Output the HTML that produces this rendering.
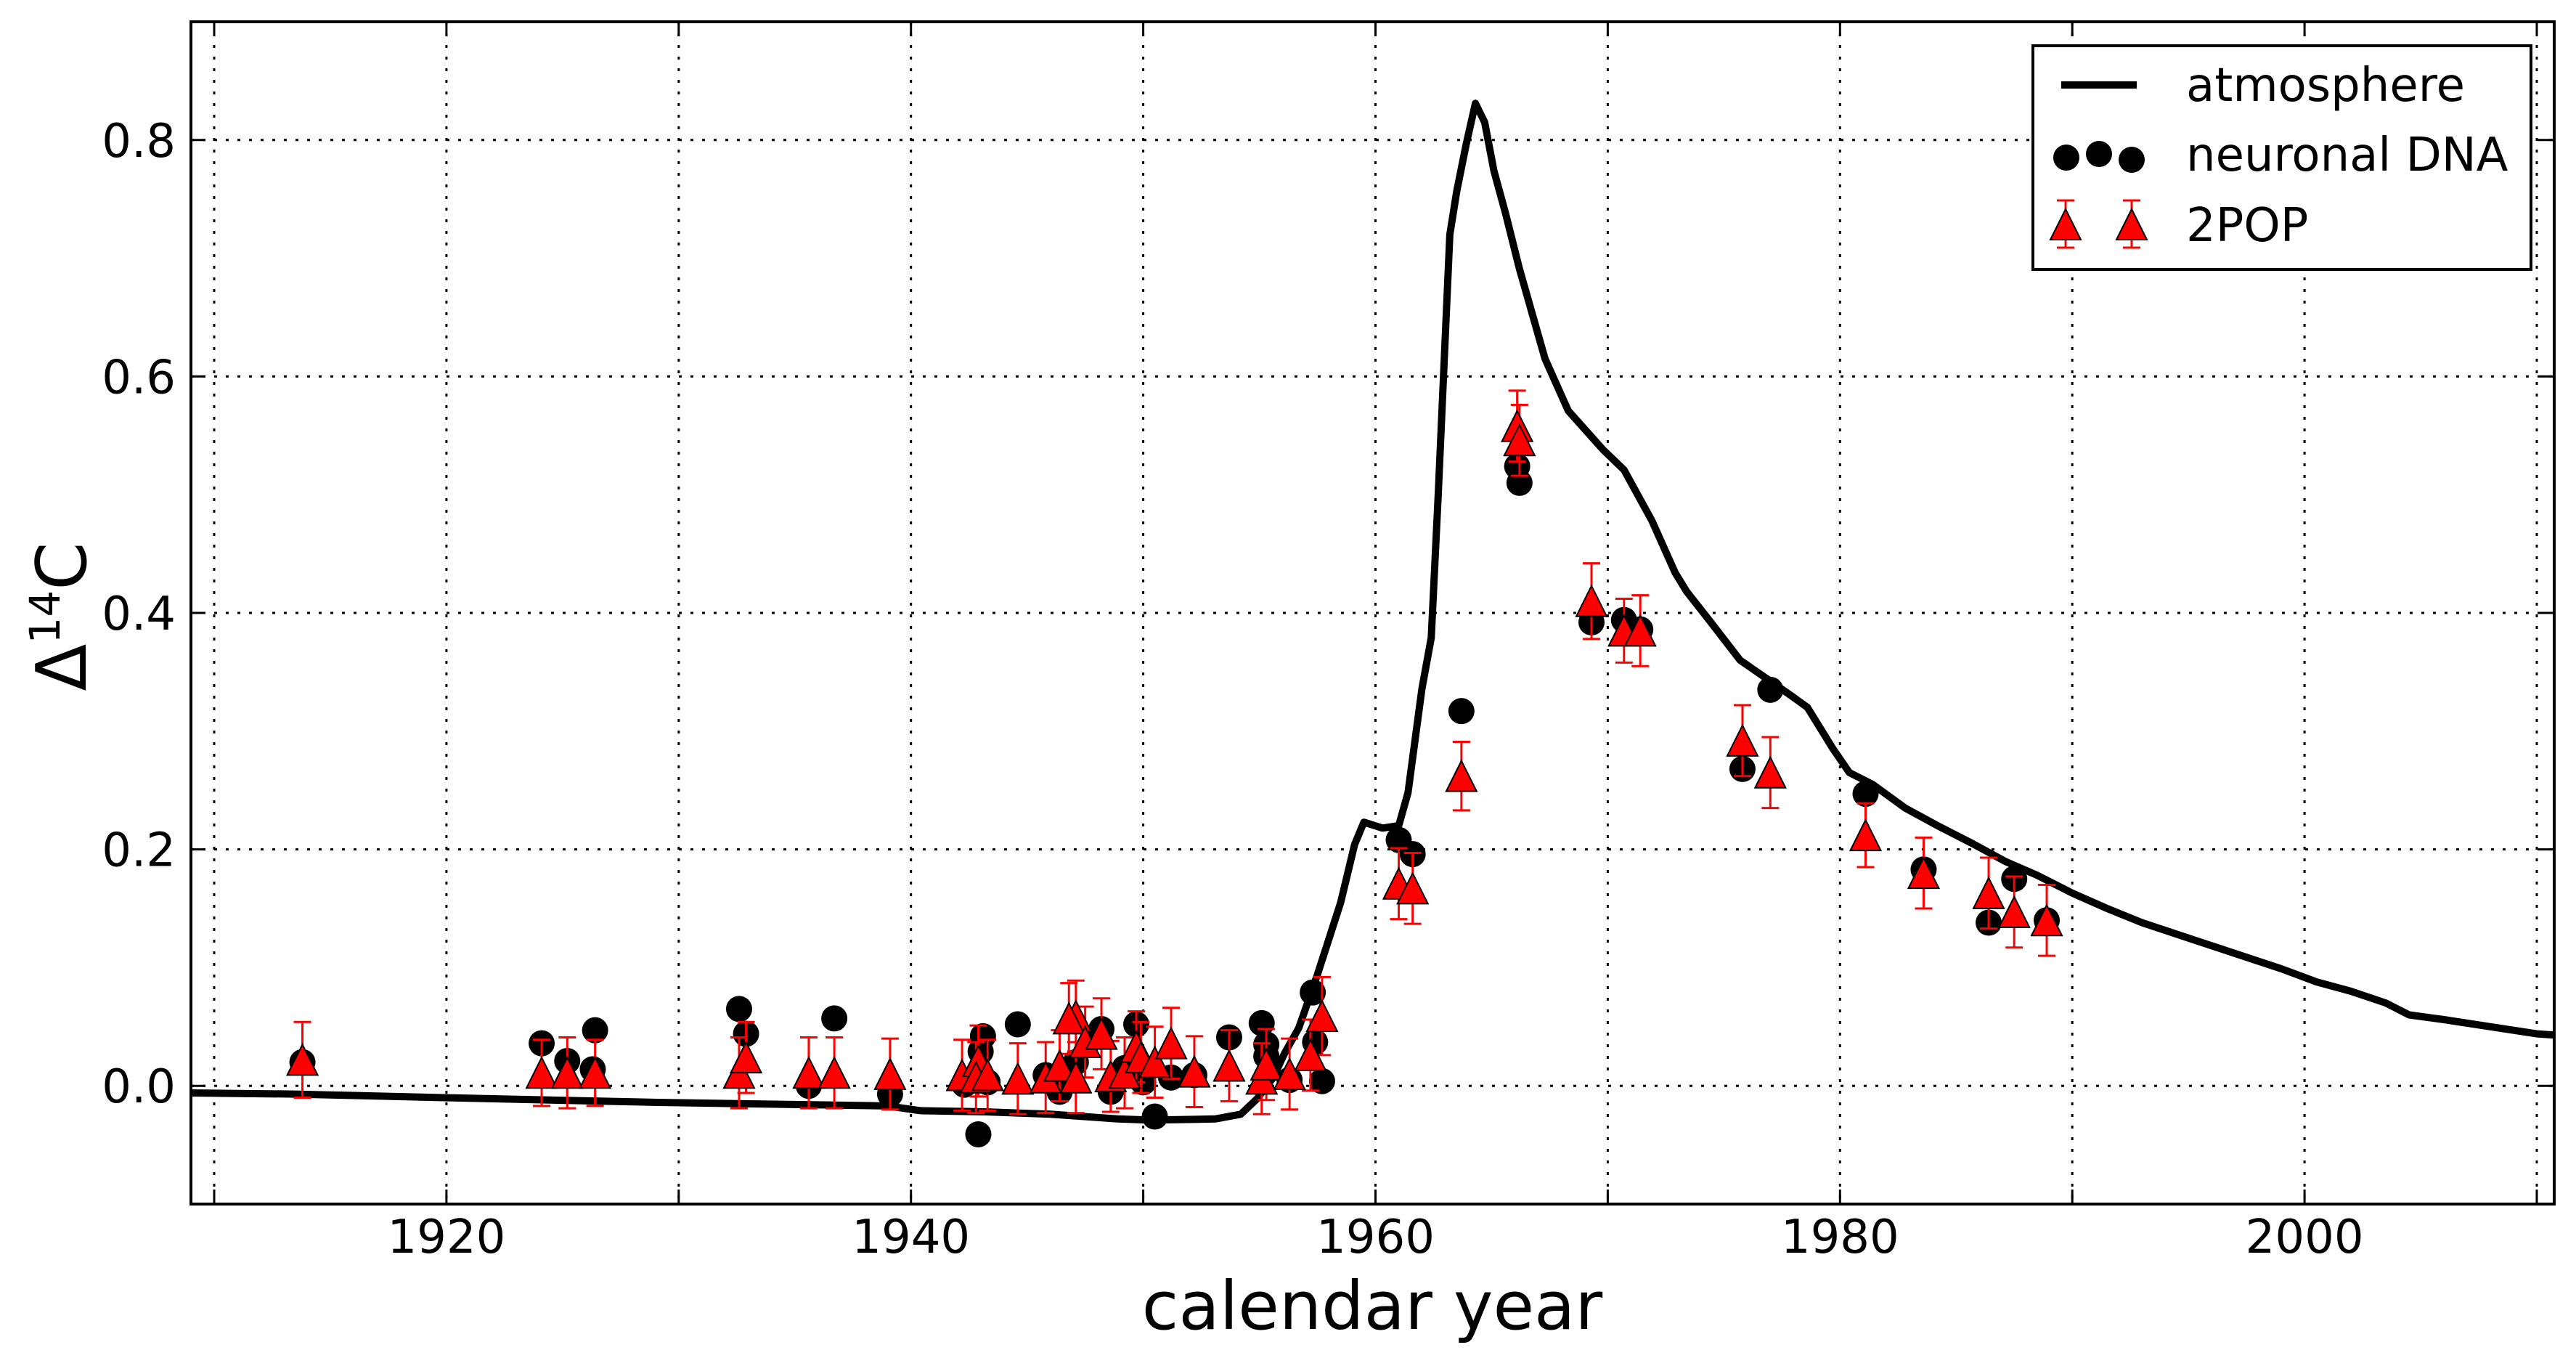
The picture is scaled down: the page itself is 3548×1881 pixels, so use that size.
<!DOCTYPE html>
<html><head><meta charset="utf-8"><style>
html,body{margin:0;padding:0;background:#fff;}
svg{display:block;font-family:"DejaVu Sans","Liberation Sans",sans-serif;}
</style></head><body>
<svg id="chart" width="3548" height="1881" viewBox="0 0 3548 1881" xmlns="http://www.w3.org/2000/svg">
<rect x="0" y="0" width="3548" height="1881" fill="#fff"/>
<g id="grid"></g>
<g id="ticks"></g>
<g id="plot"></g>
<rect x="263" y="30" width="3255" height="1628" fill="none" stroke="#000" stroke-width="4"/>
<text x="1890" y="1830" font-size="92" text-anchor="middle">calendar year</text>
<text transform="translate(118,849) rotate(-90)" font-size="95" text-anchor="middle">Δ<tspan font-size="58" dy="-36">14</tspan><tspan dy="36">C</tspan></text>
<g>
<rect x="2800" y="63" width="686" height="308" fill="#fff" stroke="#000" stroke-width="4"/>
<line x1="2839" y1="117" x2="2943" y2="117" stroke="#000" stroke-width="10"/>
<text x="3011" y="139" font-size="64">atmosphere</text>
<ellipse cx="2846" cy="217" rx="18" ry="18" fill="#000"/>
<ellipse cx="2891" cy="212" rx="18" ry="18" fill="#000"/>
<ellipse cx="2936" cy="220" rx="18" ry="18" fill="#000"/>
<text x="3011" y="235" font-size="64">neuronal DNA</text>
<g stroke="red" stroke-width="3">
<line x1="2845" y1="276" x2="2845" y2="341"/><line x1="2833" y1="276" x2="2857" y2="276"/><line x1="2833" y1="341" x2="2857" y2="341"/>
<line x1="2936" y1="276" x2="2936" y2="341"/><line x1="2924" y1="276" x2="2948" y2="276"/><line x1="2924" y1="341" x2="2948" y2="341"/>
<polygon points="2845,288 2866,330 2824,330" fill="red" stroke="#000" stroke-width="2"/>
<polygon points="2936,288 2957,330 2915,330" fill="red" stroke="#000" stroke-width="2"/>
</g>
<text x="3011" y="332" font-size="64">2POP</text>
</g>
</svg>
<script>
const atmYears = [1909,1913.5,1919.9,1929.1,1939.0,1940.4,1943.2,1946.0,1948.9,1950.3,1953.1,1954.2,1954.9,1955.6,1956.1,1956.7,1957.5,1958.5,1959.1,1959.5,1960.3,1961.0,1961.4,1962.0,1962.4,1962.7,1963.2,1963.5,1963.9,1964.3,1964.7,1965.1,1965.6,1966.2,1967.3,1968.3,1969.8,1970.7,1971.9,1972.9,1973.4,1974.4,1975.7,1976.8,1977.9,1978.6,1979.7,1980.4,1981.4,1982.8,1984.2,1985.7,1987.1,1988.5,1990,1991.5,1993,1995,1997,1999,2000.5,2002,2003.5,2004.5,2006,2008,2010,2010.75];
const atmValues = [-0.006,-0.007,-0.010,-0.014,-0.017,-0.021,-0.022,-0.024,-0.028,-0.029,-0.028,-0.024,-0.011,0.007,0.028,0.049,0.094,0.155,0.204,0.223,0.218,0.22,0.248,0.336,0.379,0.5,0.72,0.757,0.796,0.831,0.815,0.774,0.738,0.691,0.615,0.571,0.538,0.521,0.478,0.434,0.418,0.393,0.36,0.345,0.33,0.32,0.285,0.265,0.255,0.235,0.22,0.205,0.19,0.178,0.163,0.15,0.138,0.125,0.112,0.099,0.088,0.08,0.07,0.06,0.056,0.05,0.044,0.043];
const dnaYears = [1913.8,1924.1,1925.2,1926.4,1926.3,1932.6,1932.9,1935.6,1936.7,1939.1,1943.1,1943.0,1942.3,1942.9,1943.3,1944.6,1945.8,1946.4,1947.1,1948.2,1948.6,1949.2,1949.7,1950.0,1950.5,1951.2,1952.2,1953.7,1955.1,1955.3,1955.3,1956.3,1957.3,1957.4,1957.7,1961.0,1961.6,1963.7,1966.1,1966.2,1969.3,1970.7,1971.4,1975.8,1977.0,1981.1,1983.6,1986.4,1987.5,1988.9];
const dnaValues = [0.02,0.036,0.021,0.047,0.014,0.065,0.044,0.0,0.057,-0.007,0.042,0.029,0.001,-0.041,0.003,0.052,0.009,-0.005,0.02,0.048,-0.005,0.015,0.052,0.003,-0.026,0.007,0.009,0.041,0.053,0.035,0.025,0.005,0.079,0.037,0.004,0.208,0.196,0.317,0.524,0.510,0.392,0.394,0.386,0.268,0.335,0.247,0.183,0.138,0.175,0.140];
const popYears = [1913.8,1924.1,1925.2,1926.4,1932.6,1932.9,1935.6,1936.7,1939.1,1942.2,1942.9,1942.8,1943.3,1944.6,1945.8,1946.4,1947.1,1947.1,1946.8,1947.5,1948.2,1948.6,1949.2,1949.7,1949.9,1950.5,1951.2,1952.2,1953.7,1955.1,1955.3,1956.3,1957.2,1957.7,1961.0,1961.6,1963.7,1966.1,1966.2,1969.3,1970.7,1971.4,1975.8,1977.0,1981.1,1983.6,1986.4,1987.5,1988.9];
const popValues = [0.022,0.011,0.011,0.011,0.011,0.024,0.011,0.011,0.010,0.009,0.021,0.007,0.009,0.006,0.007,0.017,0.007,0.059,0.057,0.037,0.044,0.008,0.011,0.033,0.024,0.02,0.036,0.012,0.017,0.006,0.018,0.01,0.026,0.059,0.171,0.167,0.262,0.558,0.546,0.410,0.385,0.385,0.292,0.265,0.212,0.180,0.163,0.147,0.140];
const popErrors = [0.032,0.028,0.03,0.028,0.03,0.03,0.03,0.03,0.03,0.03,0.03,0.03,0.03,0.03,0.03,0.03,0.03,0.03,0.03,0.03,0.03,0.03,0.03,0.03,0.03,0.03,0.03,0.03,0.03,0.03,0.03,0.03,0.03,0.033,0.03,0.03,0.029,0.03,0.03,0.032,0.027,0.03,0.03,0.03,0.027,0.03,0.03,0.03,0.03];
const xTicks = [1910,1920,1930,1940,1950,1960,1970,1980,1990,2000,2010];
const xTickLabels = ["","1920","","1940","","1960","","1980","","2000",""];
const yTicks = [0.0,0.2,0.4,0.6,0.8];
const yTickLabels = ["0.0","0.2","0.4","0.6","0.8"];

const L=263,R=3518,T=30,B=1658, X0=1909, X1=2010.75, Y0=-0.1, Y1=0.9;
function sx(v){return L+(v-X0)/(X1-X0)*(R-L);}
function sy(v){return B-(v-Y0)/(Y1-Y0)*(B-T);}
const NS="http://www.w3.org/2000/svg";
function mk(tag,attrs,parent){const e=document.createElementNS(NS,tag);for(const k in attrs)e.setAttribute(k,attrs[k]);parent.appendChild(e);return e;}
const grid=document.getElementById('grid'),ticks=document.getElementById('ticks'),plot=document.getElementById('plot');

xTicks.forEach((t,i)=>{
  const x=sx(t);
  const g=mk('line',{x1:x,y1:T,x2:x,y2:B,stroke:'#000','stroke-width':3,'stroke-dasharray':'4 12'},grid);
  
  
  const tb=mk('line',{x1:x,y1:B,x2:x,y2:B-20,stroke:'#000','stroke-width':3},ticks);
  
  
  const tt=mk('line',{x1:x,y1:T,x2:x,y2:T+20,stroke:'#000','stroke-width':3},ticks);
  
  
  if(xTickLabels[i]){
    const lb=mk('text',{x:x,y:1725,'font-size':64,'text-anchor':'middle'},ticks);
    lb.textContent=xTickLabels[i];
    
    
  }
});
yTicks.forEach((t,i)=>{
  const y=sy(t);
  const g=mk('line',{x1:L,y1:y,x2:R,y2:y,stroke:'#000','stroke-width':3,'stroke-dasharray':'4 12'},grid);
  
  
  const tl=mk('line',{x1:L,y1:y,x2:L+20,y2:y,stroke:'#000','stroke-width':3},ticks);
  
  
  const tr=mk('line',{x1:R,y1:y,x2:R-20,y2:y,stroke:'#000','stroke-width':3},ticks);
  
  
  const lb=mk('text',{x:242,y:y+23,'font-size':64,'text-anchor':'end'},ticks);
  lb.textContent=yTickLabels[i];
  
  
});

const cp=mk('clipPath',{id:'clip'},plot);
mk('rect',{x:L,y:T,width:R-L,height:B-T},cp);
const inner=mk('g',{'clip-path':'url(#clip)'},plot);

const d=atmYears.map((yr,i)=>(i?'L':'M')+sx(yr).toFixed(1)+','+sy(atmValues[i]).toFixed(1)).join(' ');
const line=mk('path',{d:d,fill:'none',stroke:'#000','stroke-width':10,'stroke-linejoin':'round'},inner);



dnaYears.forEach((yr,i)=>{
  const c=mk('circle',{cx:sx(yr),cy:sy(dnaValues[i]),r:18,fill:'#000'},inner);
  
  
});
popYears.forEach((yr,i)=>{
  const x=sx(yr),y=sy(popValues[i]),ytop=sy(popValues[i]+popErrors[i]),ybot=sy(popValues[i]-popErrors[i]);
  const g=mk('g',{stroke:'red','stroke-width':3},inner);
  
  
  mk('line',{x1:x,y1:ytop,x2:x,y2:ybot},g);
  mk('line',{x1:x-12,y1:ytop,x2:x+12,y2:ytop},g);
  mk('line',{x1:x-12,y1:ybot,x2:x+12,y2:ybot},g);
});
popYears.forEach((yr,i)=>{
  const x=sx(yr),y=sy(popValues[i]);
  const p=mk('polygon',{points:`${x},${y-21} ${x+21},${y+21} ${x-21},${y+21}`,fill:'red',stroke:'#000','stroke-width':2},inner);
  
  
});
</script>
</body></html>
